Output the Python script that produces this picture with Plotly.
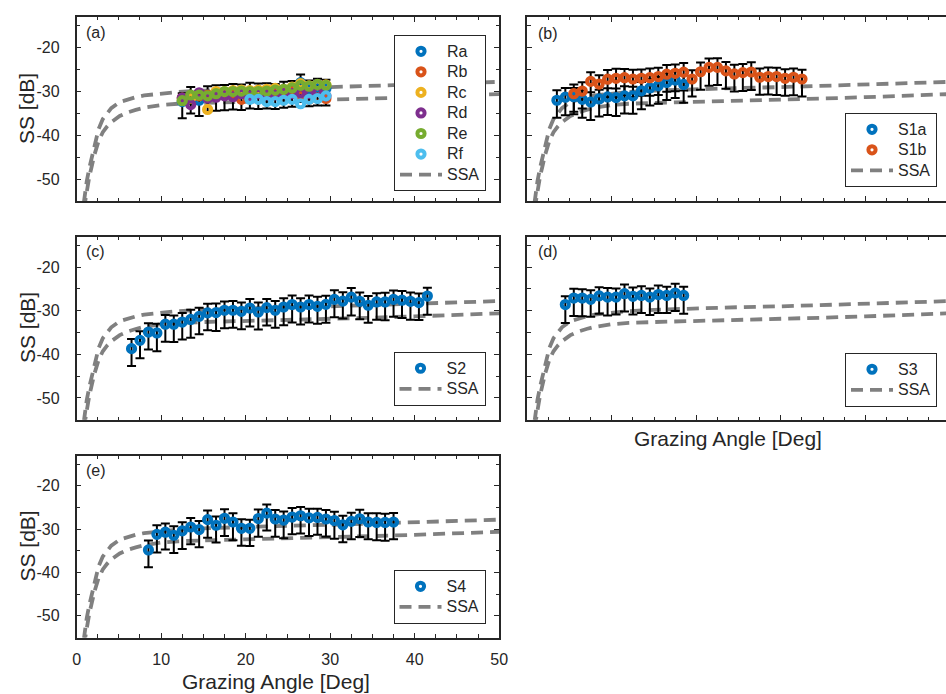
import plotly.graph_objects as go

# ---------------- data ----------------
ssa_angle = [0.85, 1.0, 1.2, 1.5, 1.8, 2.1, 2.6, 3.1, 3.6, 4.1, 5.1, 6.0, 7.0, 8.0,
             10, 12, 15, 20, 25, 30, 35, 40, 45, 50]
ssa_upper = [-55.5, -53.0, -50.5, -47.5, -45.0, -42.3, -38.6, -36.3, -34.9, -33.8, -32.4,
             -31.8, -31.3, -30.9, -30.4, -30.1, -29.8, -29.4, -29.2, -29.0, -28.7, -28.4,
             -28.1, -27.8]
ssa_lower = [-57.0, -55.0, -52.5, -49.5, -47.0, -44.5, -41.3, -39.3, -38.0, -37.0, -35.6,
             -34.8, -34.2, -33.7, -33.1, -32.8, -32.6, -32.4, -32.1, -31.8, -31.6, -31.3,
             -31.0, -30.6]

ang_R = [12.5, 13.5, 14.5, 15.5, 16.5, 17.5, 18.5, 19.5, 20.5, 21.5, 22.5, 23.5, 24.5,
         25.5, 26.5, 27.5, 28.5, 29.5]
ss_Ra = [-32.3, -31.0, -32.0, -30.8, -30.5, -30.5, -30.3, -30.3, -30.0, -30.2, -30.0,
         -30.3, -29.8, -29.5, -28.0, -29.5, -29.0, -29.3]
ep_Ra = [1.9, 2.0, 1.9, 2.0, 1.9, 2.0, 2.0, 1.9, 2.0, 2.0, 1.9, 2.0, 2.0, 1.9, 1.9, 2.0,
         1.9, 2.0]
em_Ra = [3.8, 4.0, 3.6, 3.8, 3.9, 3.8, 3.8, 3.9, 3.9, 3.8, 3.9, 3.7, 3.9, 4.0, 4.4, 3.9,
         4.2, 3.9]
ss_Rb = [-31.5, -31.3, -31.0, -30.8, -30.7, -30.8, -30.5, -31.8, -30.0, -29.8, -30.2,
         -30.5, -30.3, -30.0, -31.0, -31.8, -31.5, -31.6]
ss_Rc = [-32.0, -31.5, -30.5, -34.1, -30.0, -30.0, -29.8, -29.7, -29.8, -29.7, -29.5,
         -29.3, -29.5, -29.0, -28.2, -28.7, -28.5, -28.5]
ss_Rd = [-31.5, -33.0, -30.3, -31.5, -31.3, -31.0, -31.2, -30.5, -31.0, -30.5, -30.8,
         -30.8, -30.5, -30.5, -30.3, -30.5, -30.0, -31.0]
ss_Re = [-32.1, -30.8, -30.8, -31.0, -30.5, -30.0, -30.0, -29.9, -30.0, -30.0, -29.9,
         -29.7, -29.5, -29.2, -28.6, -28.8, -28.4, -28.6]
ang_Rf = [20.5, 21.5, 22.5, 23.5, 24.5, 25.5, 26.5, 27.5, 28.5, 29.5]
ss_Rf = [-31.8, -31.8, -32.3, -32.3, -32.0, -31.8, -32.8, -31.8, -31.6, -31.0]

ang_S1a = [3.5, 4.5, 5.5, 6.5, 7.5, 8.5, 9.5, 10.5, 11.5, 12.5, 13.5, 14.5, 15.5, 16.5,
           17.5, 18.5]
ss_S1a = [-32.0, -31.3, -31.2, -31.8, -32.4, -31.7, -31.25, -31.4, -31.0, -31.0, -29.85,
          -29.2, -28.7, -27.95, -27.4, -28.4]
ep_S1a = [2.3, 2.1, 2.0, 2.1, 2.2, 2.1, 2.0, 2.1, 2.2, 2.1, 2.0, 2.1, 2.0, 2.1, 2.0, 2.1]
em_S1a = [4.0, 4.1, 4.0, 4.2, 4.1, 4.0, 4.1, 4.2, 4.0, 4.1, 4.2, 4.0, 4.1, 4.0, 4.1, 4.2]

ang_S1b = [5.5, 6.5, 7.5, 8.5, 9.5, 10.5, 11.5, 12.5, 13.5, 14.5, 15.5, 16.5, 17.5, 18.5,
           19.5, 20.5, 21.5, 22.5, 23.5, 24.5, 25.5, 26.5, 27.5, 28.5, 29.5, 30.5, 31.5,
           32.5]
ss_S1b = [-30.5, -29.9, -27.7, -28.3, -27.2, -27.0, -26.85, -27.15, -27.0, -26.85, -26.6,
          -26.05, -25.85, -25.6, -27.15, -25.5, -24.5, -24.5, -25.3, -26.0, -25.7, -25.55,
          -26.75, -26.6, -26.6, -27.0, -26.75, -27.15]
ep_S1b = [2.1, 2.0, 2.1, 2.0, 2.1, 2.2, 2.0, 2.1, 2.0, 2.1, 2.0, 2.1, 2.0, 2.1, 2.0, 2.1,
          2.0, 2.1, 2.0, 2.1, 2.0, 2.2, 2.0, 2.1, 2.0, 2.1, 2.0, 2.1]
em_S1b = [4.1, 4.0, 4.2, 4.0, 4.1, 4.2, 4.0, 4.1, 4.0, 4.1, 4.2, 4.0, 4.1, 4.2, 4.0, 4.1,
          4.2, 4.0, 4.1, 4.0, 4.2, 4.1, 4.0, 4.1, 4.2, 4.0, 4.1, 4.0]

ang_S2 = [6.5, 7.5, 8.5, 9.5, 10.5, 11.5, 12.5, 13.5, 14.5, 15.5, 16.5, 17.5, 18.5, 19.5,
          20.5, 21.5, 22.5, 23.5, 24.5, 25.5, 26.5, 27.5, 28.5, 29.5, 30.5, 31.5, 32.5,
          33.5, 34.5, 35.5, 36.5, 37.5, 38.5, 39.5, 40.5, 41.5]
ss_S2 = [-38.7, -36.8, -34.9, -35.1, -33.1, -33.1, -32.6, -32.0, -31.3, -30.5, -30.45,
         -29.9, -29.9, -30.15, -29.4, -30.3, -29.3, -29.9, -29.15, -28.6, -29.15, -28.6,
         -29.0, -28.55, -27.4, -27.8, -26.9, -27.85, -28.75, -28.0, -28.0, -27.4, -27.6,
         -27.85, -28.15, -26.65]
ep_S2 = [2.2, 2.1, 2.0, 2.1, 2.1, 2.0, 2.1, 2.2, 2.0, 2.1, 2.1, 2.0, 2.1, 2.0, 2.1, 2.2,
         2.0, 2.1, 2.0, 2.1, 2.0, 2.1, 2.2, 2.0, 2.1, 2.0, 2.1, 2.0, 2.1, 2.0, 2.1, 2.0,
         2.1, 2.0, 2.1, 1.9]
em_S2 = [4.0, 4.1, 4.0, 4.2, 4.0, 4.1, 4.0, 4.2, 4.1, 4.0, 4.2, 4.1, 4.0, 4.1, 4.2, 4.0,
         4.1, 4.0, 4.2, 4.1, 4.0, 4.1, 4.0, 4.2, 4.1, 4.0, 4.2, 4.1, 4.0, 4.1, 4.2, 4.0,
         4.1, 4.2, 4.0, 4.3]

ang_S3 = [4.5, 5.5, 6.5, 7.5, 8.5, 9.5, 10.5, 11.5, 12.5, 13.5, 14.5, 15.5, 16.5, 17.5,
          18.5]
ss_S3 = [-28.6, -27.1, -27.1, -27.4, -26.6, -26.9, -26.9, -26.1, -26.7, -26.5, -26.9,
         -26.3, -26.5, -25.95, -26.5]
ep_S3 = [1.9, 2.1, 2.0, 2.1, 2.0, 2.1, 2.0, 2.1, 2.0, 2.1, 2.0, 2.1, 2.0, 2.1, 2.0]
em_S3 = [4.2, 4.1, 4.2, 4.0, 4.1, 4.2, 4.0, 4.1, 4.2, 4.0, 4.1, 4.2, 4.0, 4.1, 4.2]

ang_S4 = [8.5, 9.5, 10.5, 11.5, 12.5, 13.5, 14.5, 15.5, 16.5, 17.5, 18.5, 19.5, 20.5,
          21.5, 22.5, 23.5, 24.5, 25.5, 26.5, 27.5, 28.5, 29.5, 30.5, 31.5, 32.5, 33.5,
          34.5, 35.5, 36.5, 37.5]
ss_S4 = [-34.8, -31.2, -30.7, -31.4, -30.4, -29.5, -30.1, -27.8, -29.1, -27.5, -28.35,
         -29.8, -29.8, -27.55, -26.3, -27.65, -27.9, -27.2, -26.9, -27.4, -27.3, -27.65,
         -28.0, -29.0, -28.2, -27.6, -28.35, -28.45, -28.45, -28.35]
ep_S4 = [2.2, 2.1, 2.0, 2.1, 2.0, 2.1, 2.0, 2.1, 2.0, 2.1, 2.0, 2.1, 2.0, 2.1, 2.0, 2.1,
         2.0, 2.1, 2.0, 2.1, 2.0, 2.1, 2.0, 2.1, 2.0, 2.1, 2.0, 2.1, 2.0, 2.1]
em_S4 = [4.0, 4.2, 4.0, 4.1, 4.2, 4.0, 4.1, 4.2, 4.0, 4.1, 4.2, 4.0, 4.1, 4.2, 4.0, 4.1,
         4.2, 4.0, 4.1, 4.2, 4.0, 4.1, 4.2, 4.0, 4.1, 4.2, 4.0, 4.1, 4.2, 4.0]

y_tickvals = [-50, -40, -30, -20]
y_ticktext = ['-50', '-40', '-30', '-20']
x_tickvals = [0, 10, 20, 30, 40, 50]
x_ticktext = ['0', '10', '20', '30', '40', '50']

C_BLUE, C_ORANGE, C_YELLOW = '#0072BD', '#D95319', '#EDB120'
C_PURPLE, C_GREEN, C_CYAN = '#7E2F8E', '#77AC30', '#4DBEEE'
TXT = '#262626'
FONT = 'Liberation Sans, Arial, Helvetica, sans-serif'

# ---------------- layout geometry (pixels) ----------------
W, H = 946, 694
XMAX_FULL = 50.0
LEFT = (76.6, 499.2)
RIGHT_X0 = 527.3
SCALE = (LEFT[1] - LEFT[0]) / XMAX_FULL
RIGHT_XMAX = (W - RIGHT_X0) / SCALE
ROWS = [(17.0, 201.0), (236.5, 419.8), (455.5, 637.5)]


def dom_x(a, b):
    return [a / W, min(b / W, 1.0)]


def dom_y(top, bot):
    return [1 - bot / H, 1 - top / H]


panels = {
    1: dict(x=dom_x(*LEFT), y=dom_y(*ROWS[0]), xr=[0, XMAX_FULL], left=True, xlab=False),
    2: dict(x=dom_x(RIGHT_X0, W), y=dom_y(*ROWS[0]), xr=[0, RIGHT_XMAX], left=False, xlab=False),
    3: dict(x=dom_x(*LEFT), y=dom_y(*ROWS[1]), xr=[0, XMAX_FULL], left=True, xlab=False),
    4: dict(x=dom_x(RIGHT_X0, W), y=dom_y(*ROWS[1]), xr=[0, RIGHT_XMAX], left=False, xlab=False),
    5: dict(x=dom_x(*LEFT), y=dom_y(*ROWS[2]), xr=[0, XMAX_FULL], left=True, xlab=True),
}

fig = go.Figure()


def axref(i):
    return ('x' if i == 1 else f'x{i}'), ('y' if i == 1 else f'y{i}')


def lgref(i):
    return 'legend' if i == 1 else f'legend{i}'


def lgname(t):
    return f'<span style="font-size:16px">{t}</span>'


def add_ssa(i):
    xa, ya = axref(i)
    for k, yy in enumerate([ssa_upper, ssa_lower]):
        fig.add_trace(go.Scatter(
            x=ssa_angle, y=yy, mode='lines', xaxis=xa, yaxis=ya,
            line=dict(color='#808080', width=3.8, dash='12px,7px'),
            name=lgname('SSA'), legend=lgref(i), legendrank=900,
            showlegend=(k == 0), hoverinfo='skip'))


def add_bars(i, x, y, ep, em):
    xa, ya = axref(i)
    fig.add_trace(go.Scatter(
        x=x, y=y, mode='markers', xaxis=xa, yaxis=ya,
        marker=dict(size=2, opacity=0),
        error_y=dict(type='data', symmetric=False, array=ep, arrayminus=em,
                     color='black', thickness=2.0, width=4.5),
        showlegend=False, hoverinfo='skip'))


def add_marks(i, x, y, color, name, rank):
    xa, ya = axref(i)
    fig.add_trace(go.Scatter(
        x=x, y=y, mode='markers', xaxis=xa, yaxis=ya,
        marker=dict(symbol='circle-open', size=7.2, color=color, line=dict(width=4.0)),
        name=lgname(name), legend=lgref(i), legendrank=rank))


for i in range(1, 6):
    add_ssa(i)

# (a)
add_bars(1, ang_R, ss_Ra, ep_Ra, em_Ra)
for rank, (xx, yy, c, n) in enumerate([(ang_R, ss_Ra, C_BLUE, 'Ra'), (ang_R, ss_Rb, C_ORANGE, 'Rb'),
                                       (ang_R, ss_Rc, C_YELLOW, 'Rc'), (ang_R, ss_Rd, C_PURPLE, 'Rd'),
                                       (ang_R, ss_Re, C_GREEN, 'Re'), (ang_Rf, ss_Rf, C_CYAN, 'Rf')]):
    add_marks(1, xx, yy, c, n, 10 + rank)
# (b)
add_bars(2, ang_S1a, ss_S1a, ep_S1a, em_S1a)
add_bars(2, ang_S1b, ss_S1b, ep_S1b, em_S1b)
add_marks(2, ang_S1a, ss_S1a, C_BLUE, 'S1a', 10)
add_marks(2, ang_S1b, ss_S1b, C_ORANGE, 'S1b', 11)
# (c)
add_bars(3, ang_S2, ss_S2, ep_S2, em_S2)
add_marks(3, ang_S2, ss_S2, C_BLUE, 'S2', 10)
# (d)
add_bars(4, ang_S3, ss_S3, ep_S3, em_S3)
add_marks(4, ang_S3, ss_S3, C_BLUE, 'S3', 10)
# (e)
add_bars(5, ang_S4, ss_S4, ep_S4, em_S4)
add_marks(5, ang_S4, ss_S4, C_BLUE, 'S4', 10)

layout = dict(
    width=W, height=H, margin=dict(l=0, r=0, t=0, b=0, autoexpand=False),
    paper_bgcolor='white', plot_bgcolor='white',
    font=dict(family=FONT, color=TXT, size=16),
    showlegend=True,
)

for i, p in panels.items():
    xk = 'xaxis' if i == 1 else f'xaxis{i}'
    yk = 'yaxis' if i == 1 else f'yaxis{i}'
    xa, ya = axref(i)
    layout[xk] = dict(
        domain=p['x'], range=p['xr'], anchor=ya, automargin=False,
        tickmode='array', tickvals=x_tickvals, ticktext=x_ticktext,
        showticklabels=p['xlab'], ticks='inside', ticklen=5, tickwidth=1.2,
        tickcolor=TXT, showline=True, linecolor=TXT, linewidth=1.6, mirror='allticks',
        showgrid=False, zeroline=False, tickfont=dict(size=16, color=TXT),
        ticklabelstandoff=6,
        minor=dict(ticks='inside', ticklen=3.5, tickwidth=1.0, tickcolor=TXT, dtick=2.5,
                   tick0=0, showgrid=False),
    )
    layout[yk] = dict(
        domain=p['y'], range=[-55, -13], anchor=xa, automargin=False,
        tickmode='array', tickvals=y_tickvals, ticktext=y_ticktext,
        showticklabels=p['left'], ticks='inside', ticklen=5, tickwidth=1.2,
        tickcolor=TXT, showline=True, linecolor=TXT, linewidth=1.6,
        mirror=('allticks' if p['left'] else False),
        showgrid=False, zeroline=False, tickfont=dict(size=16, color=TXT),
        ticklabelstandoff=12,
        minor=dict(ticks='inside', ticklen=3.5, tickwidth=1.0, tickcolor=TXT, dtick=5,
                   tick0=0, showgrid=False),
    )

# legends (box geometry in pixels)
legend_pos = {
    1: dict(right=486, top=35, anchor='top'),
    2: dict(right=937, bottom=187, anchor='bottom'),
    3: dict(right=485.5, bottom=406, anchor='bottom'),
    4: dict(right=937, bottom=407, anchor='bottom'),
    5: dict(right=485.5, bottom=624, anchor='bottom'),
}
for i, lp in legend_pos.items():
    yv = lp['top'] if lp['anchor'] == 'top' else lp['bottom']
    layout[lgref(i)] = dict(
        x=lp['right'] / W, y=1 - yv / H, xanchor='right', yanchor=lp['anchor'],
        xref='paper', yref='paper',
        bgcolor='white', bordercolor=TXT, borderwidth=1,
        font=dict(family=FONT, size=13.5, color=TXT),
        itemwidth=42, traceorder='normal', itemclick=False,
    )

fig.update_layout(**layout)

# panel labels
labels = [('(a)', 84, 32), ('(b)', 535.5, 33), ('(c)', 84, 251.5), ('(d)', 536, 251), ('(e)', 83.5, 470)]
for t, x, y in labels:
    fig.add_annotation(text=t, x=x / W, y=1 - y / H, xref='paper', yref='paper',
                       xanchor='left', yanchor='middle', showarrow=False,
                       font=dict(family=FONT, size=16, color=TXT))

# axis titles
for yc in [109, 328, 546.5]:
    fig.add_annotation(text='SS [dB]', x=27 / W, y=1 - yc / H, xref='paper', yref='paper',
                       textangle=-90, xanchor='center', yanchor='middle', showarrow=False,
                       font=dict(family=FONT, size=21, color=TXT))
for xc, yc in [(276, 681), (727.5, 438)]:
    fig.add_annotation(text='Grazing Angle [Deg]', x=xc / W, y=1 - yc / H, xref='paper',
                       yref='paper', xanchor='center', yanchor='middle', showarrow=False,
                       font=dict(family=FONT, size=21, color=TXT))

fig.write_html(
    'out.html',
    config={'responsive': False, 'displayModeBar': False},
    post_script="document.body.style.margin='0px';document.body.style.padding='0px';"
                "document.body.style.overflow='hidden';"
                "document.documentElement.style.overflow='hidden';",
)
